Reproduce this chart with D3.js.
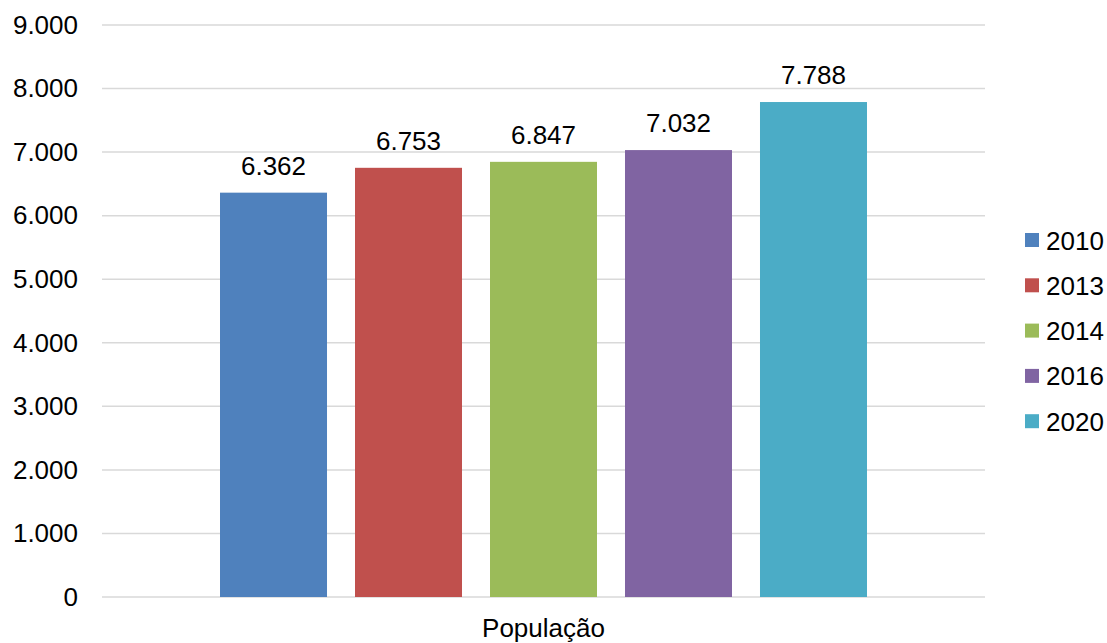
<!DOCTYPE html>
<html><head><meta charset="utf-8">
<script src="https://cdn.jsdelivr.net/npm/d3@7"></script>
<style>body{margin:0;background:#fff}text{font-family:"Liberation Sans",Arial,sans-serif;fill:#000}</style>
</head><body><svg id="c" width="1107" height="643"></svg>
<script>
const categories = ["População"];
const seriesNames = ["2010", "2013", "2014", "2016", "2020"];
const seriesValues = [6362, 6753, 6847, 7032, 7788];
const seriesColors = ["#4F81BD", "#C0504D", "#9BBB59", "#8064A2", "#4BACC6"];
const yTicks = [0, 1000, 2000, 3000, 4000, 5000, 6000, 7000, 8000, 9000];

const loc = d3.formatLocale({decimal: ",", thousands: ".", grouping: [3], currency: ["", ""]});
const fmt = loc.format(",d");
const FS = "26px";

const svg = d3.select("#c");
const pLeft = 102, pRight = 985, pTop = 25, pBottom = 597;
const y = d3.scaleLinear().domain([0, 9000]).range([pBottom, pTop]);
const x0 = d3.scaleBand().domain(categories).range([pLeft, pRight]).paddingInner(0).paddingOuter(0.1824);
const x1 = d3.scaleBand().domain(seriesNames).range([0, x0.bandwidth()]).paddingInner(28/135).paddingOuter(0);

// gridlines
svg.append("g").selectAll("line").data(yTicks).join("line")
  .attr("x1", pLeft).attr("x2", pRight)
  .attr("y1", d => y(d)).attr("y2", d => y(d))
  .attr("stroke", "#d9d9d9").attr("stroke-width", 1.5);

// y axis labels
const yAxis = d3.axisLeft(y).tickValues(yTicks).tickFormat(fmt).tickSize(0).tickPadding(24);
const ya = svg.append("g").attr("transform", `translate(${pLeft},0)`).call(yAxis);
ya.select(".domain").remove();
ya.selectAll("text").style("font-size", FS).style("font-family", '"Liberation Sans",Arial,sans-serif').attr("fill", "#000");

// bars
const g = svg.append("g");
categories.forEach(cat => {
  const gx = x0(cat);
  g.selectAll("rect.b").data(seriesNames).join("rect")
    .attr("class", "b")
    .attr("x", d => gx + x1(d)).attr("width", x1.bandwidth())
    .attr("y", (d, i) => y(seriesValues[i])).attr("height", (d, i) => pBottom - y(seriesValues[i]))
    .attr("fill", (d, i) => seriesColors[i]);
  g.selectAll("text.l").data(seriesNames).join("text")
    .attr("class", "l")
    .attr("x", d => gx + x1(d) + x1.bandwidth() / 2)
    .attr("y", (d, i) => y(seriesValues[i]) - 18)
    .attr("text-anchor", "middle").style("font-size", FS)
    .text((d, i) => fmt(seriesValues[i]));
});

// x axis label
const xa = d3.axisBottom(x0).tickSize(0).tickPadding(22);
const xg = svg.append("g").attr("transform", `translate(0,${pBottom})`).call(xa);
xg.select(".domain").remove();
xg.selectAll("text").style("font-size", FS).style("font-family", '"Liberation Sans",Arial,sans-serif').attr("fill", "#000");

// legend
const lg = svg.append("g").attr("transform", "translate(1025,0)");
seriesNames.forEach((s, i) => {
  const cy = 240 + i * 45.3;
  lg.append("rect").attr("x", 0).attr("y", cy - 7).attr("width", 14).attr("height", 14).attr("fill", seriesColors[i]);
  lg.append("text").attr("x", 21).attr("y", cy + 9.5).style("font-size", FS).text(s);
});
</script></body></html>
